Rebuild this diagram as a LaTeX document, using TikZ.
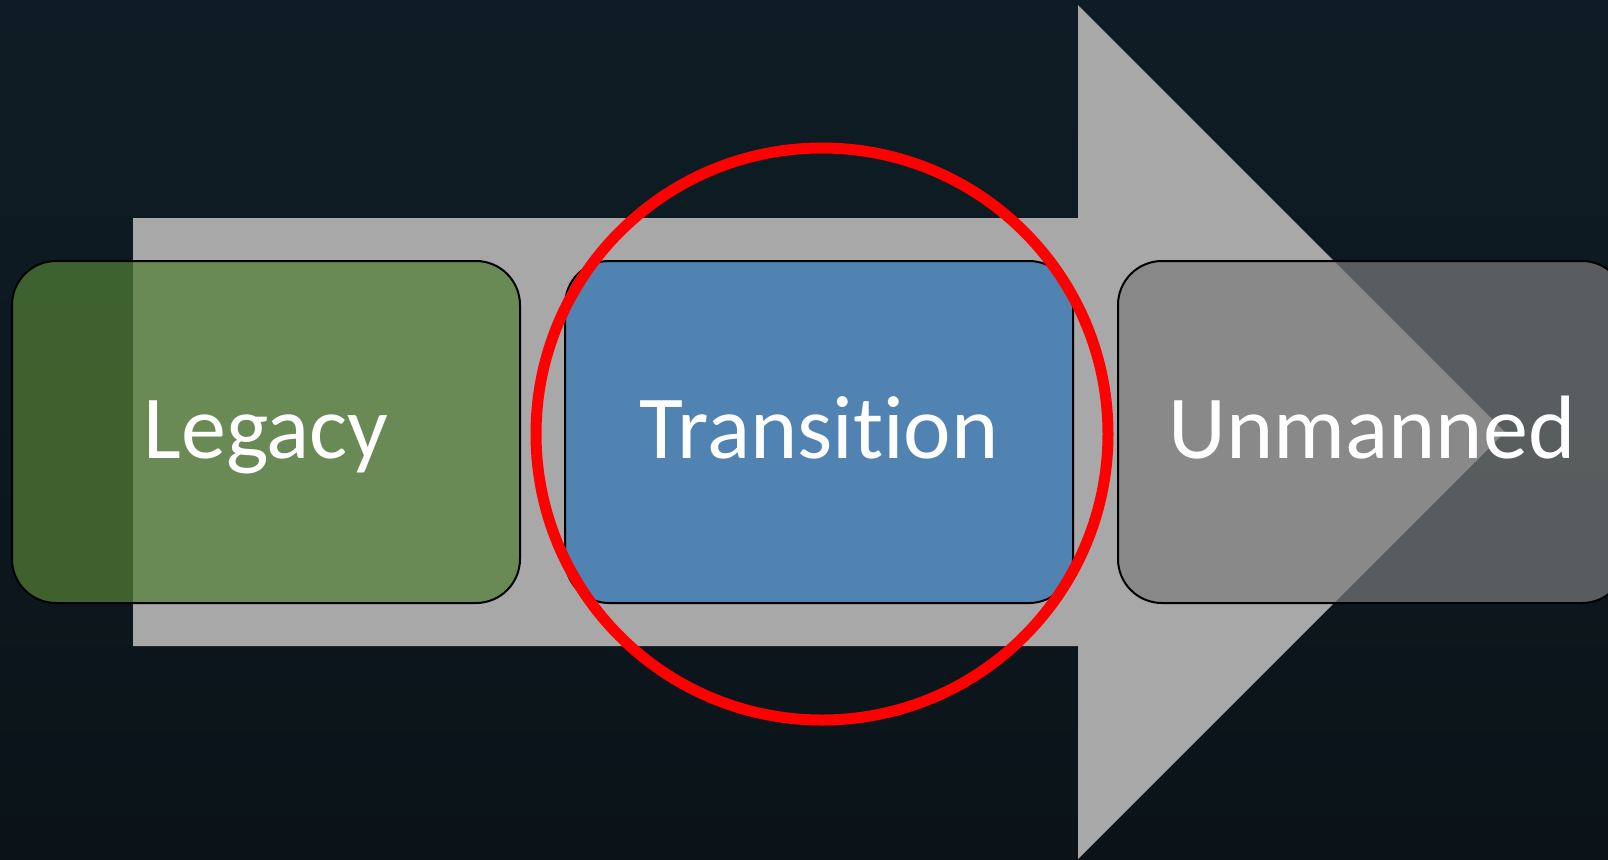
\documentclass[tikz,border=0pt]{standalone}
\usepackage{fontspec}
\setmainfont{Carlito}[Ligatures=NoCommon]
\usetikzlibrary{positioning}

\definecolor{sea}{RGB}{11,19,24}
\definecolor{seatop}{RGB}{14,29,37}
\definecolor{arrowgray}{RGB}{168,168,168}
\definecolor{legacygreen}{RGB}{82,126,53}
\definecolor{transblue}{RGB}{80,131,178}
\definecolor{unmanngray}{RGB}{124,124,124}

\tikzset{
 stagebox/.style={draw=black, line width=1pt, rounded corners=22pt, inner sep=0,
   minimum width=254pt, minimum height=171pt, text=white,
   font=\fontsize{45}{54}\selectfont, text height=26pt, text depth=0pt},
}

\begin{document}
\begin{tikzpicture}[x=0.5pt, y=-0.5pt]
\useasboundingbox (0,0) rectangle (1608,859);
\shade[top color=seatop, bottom color=sea] (0,0) rectangle (1608,859);
% big arrow behind the stages
\fill[arrowgray] (133,218) -- (1078,218) -- (1078,5) -- (1505,432) -- (1078,859) -- (1078,646) -- (133,646) -- cycle;
\node[stagebox, fill=legacygreen, fill opacity=.72, text opacity=1] (legacy) at (266,432) {Legacy};
\node[stagebox, fill=transblue, right=21.5pt of legacy] (transition) {Transition};
\node[stagebox, fill=unmanngray, fill opacity=.69, text opacity=1, right=21.5pt of transition] (unmanned) {Unmanned};
\coordinate (focus) at (822,434);
\draw[red, line width=5.5pt] (focus) circle (286);
\end{tikzpicture}
\end{document}
